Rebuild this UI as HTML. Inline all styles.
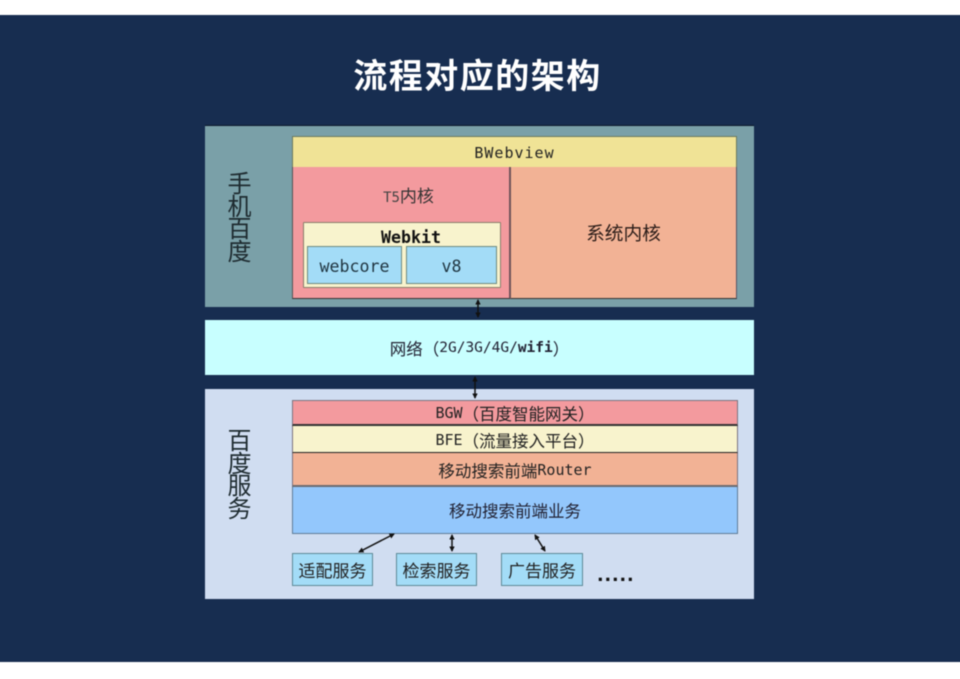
<!DOCTYPE html>
<html style="overflow:hidden"><head><meta charset="utf-8">
<style>
html,body{margin:0;padding:0;background:#fff;overflow:hidden;width:960px;height:679px}
#p{position:relative;width:960px;height:679px;font-family:"DejaVu Sans Mono","Noto Sans CJK SC",monospace;color:#222;filter:blur(.45px)}
.b{position:absolute;box-sizing:border-box;display:flex;align-items:center;justify-content:center;white-space:nowrap}
.c{font:16.5px 'Noto Sans CJK SC',sans-serif}
svg{position:absolute;left:0;top:0}
</style></head><body>
<div id="p">
<div class="b" style="left:-10px;top:15px;width:980px;height:647px;background:#172d50"></div>
<div class="b" style="left:0;top:51px;width:955px;height:44px;color:#fff;font:bold 34px 'Noto Sans CJK SC',sans-serif;letter-spacing:1.5px">流程对应的架构</div>

<div class="b" style="left:205px;top:125px;width:549px;height:182px;background:#7aa0a8;border-top:1px solid #0d1a2c"></div>
<div class="b" style="left:226px;top:171px;width:27px;height:90px;font:24px/22.5px 'Noto Sans CJK SC',sans-serif;white-space:normal;text-align:center;color:#1e2b30">手机百度</div>
<div class="b" style="left:292px;top:136px;width:445px;height:32px;background:#f0e396;border:1px solid #6b7a60;border-bottom:1.5px solid #3a3520;font-size:15px;letter-spacing:1px;padding-top:1px">BWebview</div>
<div class="b" style="left:292px;top:167px;width:219px;height:132px;background:#f39a9e;border-left:1px solid #555;border-bottom:1.5px solid #333;border-right:2px solid #70545a"></div>
<div class="b" style="left:511px;top:167px;width:226px;height:132px;background:#f2b295;border-right:1px solid #556;border-bottom:1.5px solid #333;font:18.7px 'Noto Sans CJK SC',sans-serif;color:#2a1c18">系统内核</div>
<div class="b" style="left:300px;top:182px;width:217px;height:22px;font-size:14px;color:#444;align-items:baseline">T5<span class="c" style="color:#333;font-size:17px">内核</span></div>
<div class="b" style="left:303px;top:222px;width:198px;height:66px;background:#f8f3cd;border:1px solid #8a7d6a;border-radius:1px"></div>
<div class="b" style="left:303px;top:227px;width:216px;height:20px;font-weight:bold;font-size:16.6px;color:#111">Webkit</div>
<div class="b" style="left:307px;top:246px;width:95px;height:38px;background:#a3dcf7;border:1px solid #6d8a80;font-size:16.6px;color:#1f3440;padding-top:2px">webcore</div>
<div class="b" style="left:406px;top:246px;width:91px;height:38px;background:#a3dcf7;border:1px solid #6d8a80;font-size:16.6px;color:#1f3440;padding-top:2px">v8</div>

<div class="b" style="left:205px;top:320px;width:549px;height:55px;background:#c8ffff;font-size:14.5px;color:#223;padding-top:1px"><span class="c">网络（</span>2G/3G/4G/<b>wifi</b><span class="c">）</span></div>

<div class="b" style="left:205px;top:389px;width:549px;height:210px;background:#d0ddf1"></div>
<div class="b" style="left:226px;top:428px;width:27px;height:90px;font:24px/22.5px 'Noto Sans CJK SC',sans-serif;white-space:normal;text-align:center;color:#1e2b30">百度服务</div>

<div class="b" style="left:292px;top:400px;width:446px;height:26px;background:#f39a9e;border:1px solid #7b7480;border-bottom:2px solid #333;font-size:15px;padding-top:1px">BGW<span class="c">（百度智能网关）</span></div>
<div class="b" style="left:292px;top:426px;width:446px;height:27px;background:#f8f3cd;border-left:1px solid #7b7480;border-right:1px solid #7b7480;border-bottom:1.5px solid #222;font-size:15px;padding-top:1px">BFE<span class="c">（流量接入平台）</span></div>
<div class="b" style="left:292px;top:453px;width:446px;height:34px;background:#f2b295;border-left:1px solid #7b7480;border-right:1px solid #7b7480;border-bottom:2px solid #6b6b70;font-size:15px;padding-top:2px"><span class="c">移动搜索前端</span>Router</div>
<div class="b c" style="left:292px;top:487px;width:446px;height:47px;background:#93c7fc;border:1px solid #5f7d98;border-top:none;color:#223;">移动搜索前端业务</div>

<div class="b" style="left:292px;top:553px;width:81px;height:33px;background:#a3dcf7;border:1px solid #5f8a98;font:17px 'Noto Sans CJK SC',sans-serif">适配服务</div>
<div class="b" style="left:396px;top:553px;width:81px;height:33px;background:#a3dcf7;border:1px solid #5f8a98;font:17px 'Noto Sans CJK SC',sans-serif">检索服务</div>
<div class="b" style="left:501px;top:553px;width:82px;height:33px;background:#a3dcf7;border:1px solid #5f8a98;font:17px 'Noto Sans CJK SC',sans-serif">广告服务</div>
<div class="b" style="left:597px;top:565px;width:38px;height:18px;font:bold 22px 'Liberation Sans',sans-serif;letter-spacing:1.4px;color:#111">.....</div>

<svg width="960" height="679">
<defs><marker id="a" viewBox="0 0 6 6" refX="5" refY="3" markerWidth="3.6" markerHeight="3.6" orient="auto-start-reverse"><path d="M0 0L6 3L0 6z" fill="#111"/></marker></defs>
<g stroke="#111" stroke-width="1.5">
<line x1="478" y1="300" x2="478" y2="317" marker-start="url(#a)" marker-end="url(#a)"/>
<line x1="475" y1="377" x2="475" y2="398" marker-start="url(#a)" marker-end="url(#a)"/>
<line x1="394" y1="534" x2="359" y2="552" marker-start="url(#a)" marker-end="url(#a)"/>
<line x1="452" y1="535" x2="452" y2="551" marker-start="url(#a)" marker-end="url(#a)"/>
<line x1="535" y1="535" x2="545" y2="551" marker-start="url(#a)" marker-end="url(#a)"/>
</g>
</svg>
</div>
</body></html>
